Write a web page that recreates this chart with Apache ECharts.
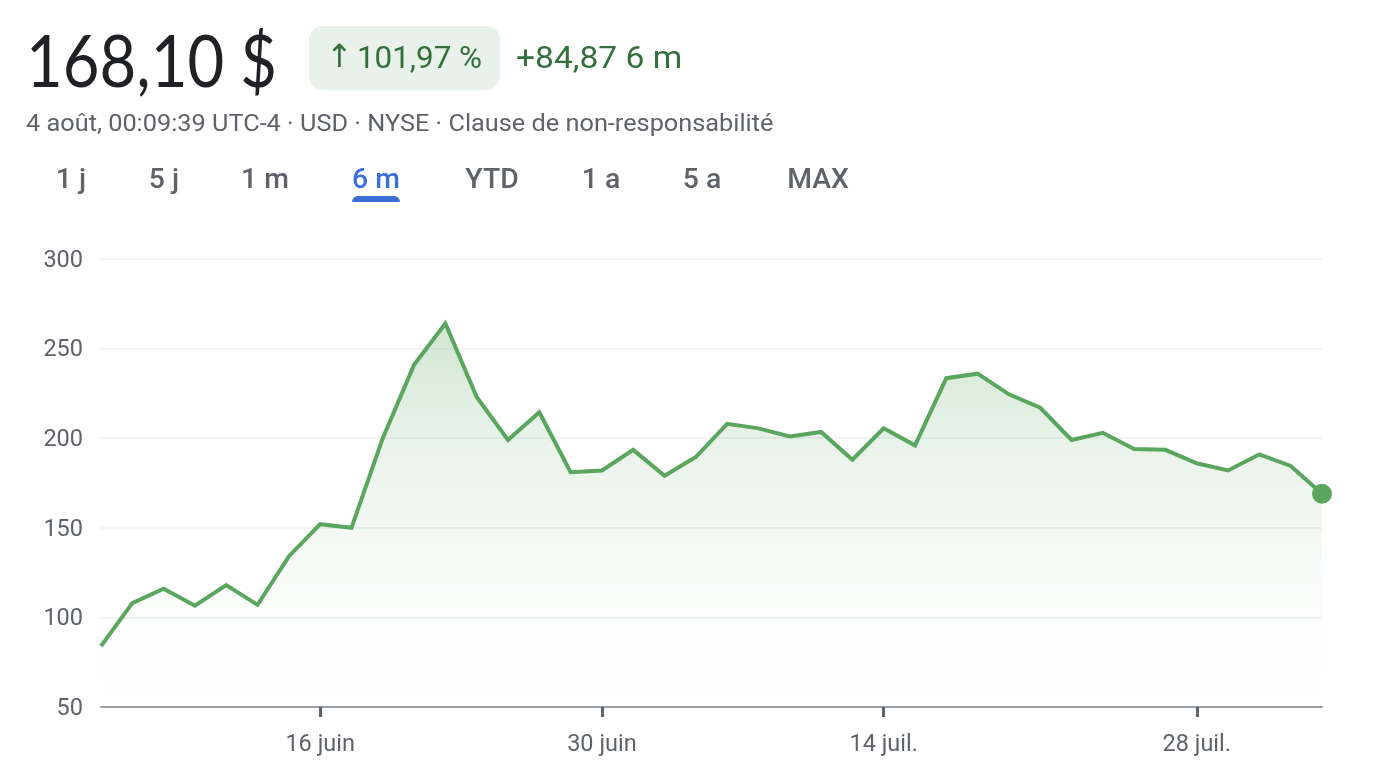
<!DOCTYPE html>
<html>
<head>
<meta charset="utf-8">
<style>
  html, body { margin: 0; padding: 0; background: #fff; }
  #main { width: 1380px; height: 784px; }
</style>
<script src="https://cdn.jsdelivr.net/npm/echarts@6/dist/echarts.min.js"></script>
</head>
<body>
<div id="main"></div>
<script>
// only the labelled points carry a name, the others have no readable date
const categories = ['', '', '', '', '', '', '', '16 juin', '', '', '', '', '', '', '', '', '30 juin', '', '', '', '', '', '', '', '', '14 juil.', '', '', '', '', '', '', '', '', '', '28 juil.', '', '', '', ''];
const prices = [84, 108, 116, 106.5, 118, 107, 134, 152, 150, 200, 241, 264, 223, 199, 214.5, 181, 182, 193.5, 179, 189.5, 208, 205.5, 201, 203.5, 188, 205.5, 196, 233.5, 236, 224.5, 217, 199, 203, 194, 193.5, 186, 182, 191, 184.5, 169];
const yTicks = [50, 100, 150, 200, 250, 300];
const rangeTabs = ['1 j', '5 j', '1 m', '6 m', 'YTD', '1 a', '5 a', 'MAX'];
const tabCenters = [71, 164, 265, 376, 492, 601, 702, 818];
const activeTab = '6 m';

const green = '#5aa65e';
const darkGreen = '#33703c';
const grey = '#5f6368';
const headFont = 'Lato, Roboto, sans-serif';
const bodyFont = 'Roboto, sans-serif';

const chartDom = document.getElementById('main');
const myChart = echarts.init(chartDom, null, { renderer: 'canvas' });

// scaleX stands in for the letter spacing of the original font
function label(text, x, y, fontSize, fill, fontFamily, scaleX, extra) {
  return {
    type: 'text',
    x: x,
    y: y,
    scaleX: scaleX || 1,
    style: Object.assign({ text: text, fontSize: fontSize, fill: fill, fontFamily: fontFamily, textVerticalAlign: 'middle' }, extra)
  };
}

const header = [
  label('168,10 $', 26, 64, 72, '#202124', headFont, 0.88),
  { type: 'rect', x: 309, y: 26, shape: { width: 191, height: 64, r: 14 }, style: { fill: '#e8f2ea' } },
  label('↑', 326, 59, 32, darkGreen, 'DejaVu Sans', 1),
  label('101,97 %', 357, 60, 32, darkGreen, bodyFont, 0.98),
  label('+84,87 6 m', 516, 60, 32, darkGreen, bodyFont, 1.05),
  label('4 août, 00:09:39 UTC-4 · USD · NYSE · Clause de non-responsabilité', 26, 125, 23, grey, bodyFont, 1.1)
];

rangeTabs.forEach(function (tab, i) {
  header.push(label(tab, tabCenters[i], 181, 27, tab === activeTab ? '#3b6fd8' : grey, bodyFont, 1.05, { textAlign: 'center', fontWeight: 500 }));
});
header.push({ type: 'rect', x: 352, y: 196, shape: { width: 48, height: 6, r: [6, 6, 0, 0] }, style: { fill: '#3b6fd8' } });

const option = {
  animation: false,
  backgroundColor: '#fff',
  grid: { left: 101, right: 58, top: 259, bottom: 77 },
  graphic: header,
  xAxis: {
    type: 'category',
    boundaryGap: false,
    data: categories,
    axisLine: { lineStyle: { color: '#9aa0a6', width: 2 } },
    axisTick: {
      length: 10,
      interval: function (i) { return categories[i] !== ''; },
      lineStyle: { color: grey, width: 3 }
    },
    axisLabel: {
      interval: function (i) { return categories[i] !== ''; },
      color: grey,
      fontFamily: bodyFont,
      fontSize: 23.5,
      margin: 26
    },
    splitLine: { show: false }
  },
  yAxis: {
    type: 'value',
    min: yTicks[0],
    max: yTicks[yTicks.length - 1],
    interval: 50,
    axisLine: { show: false },
    axisTick: { show: false },
    axisLabel: { color: grey, fontFamily: bodyFont, fontSize: 23.5, margin: 18, verticalAlign: 'top', padding: [-10, 0, 0, 0] },
    splitLine: { lineStyle: { color: '#f1f3f4', width: 2 } }
  },
  series: [
    {
      type: 'line',
      data: prices,
      clip: false,
      showAllSymbol: true,
      symbol: function (value, params) { return params.dataIndex === prices.length - 1 ? 'circle' : 'none'; },
      symbolSize: 20,
      itemStyle: { color: green },
      lineStyle: { color: green, width: 4, join: 'miter' },
      areaStyle: {
        color: new echarts.graphic.LinearGradient(0, 0, 0, 1, [
          { offset: 0, color: 'rgba(90,166,94,0.40)' },
          { offset: 0.3, color: 'rgba(90,166,94,0.20)' },
          { offset: 0.6, color: 'rgba(90,166,94,0.08)' },
          { offset: 0.8, color: 'rgba(90,166,94,0.02)' },
          { offset: 1, color: 'rgba(90,166,94,0)' }
        ])
      }
    }
  ]
};

option && myChart.setOption(option);
</script>
</body>
</html>
